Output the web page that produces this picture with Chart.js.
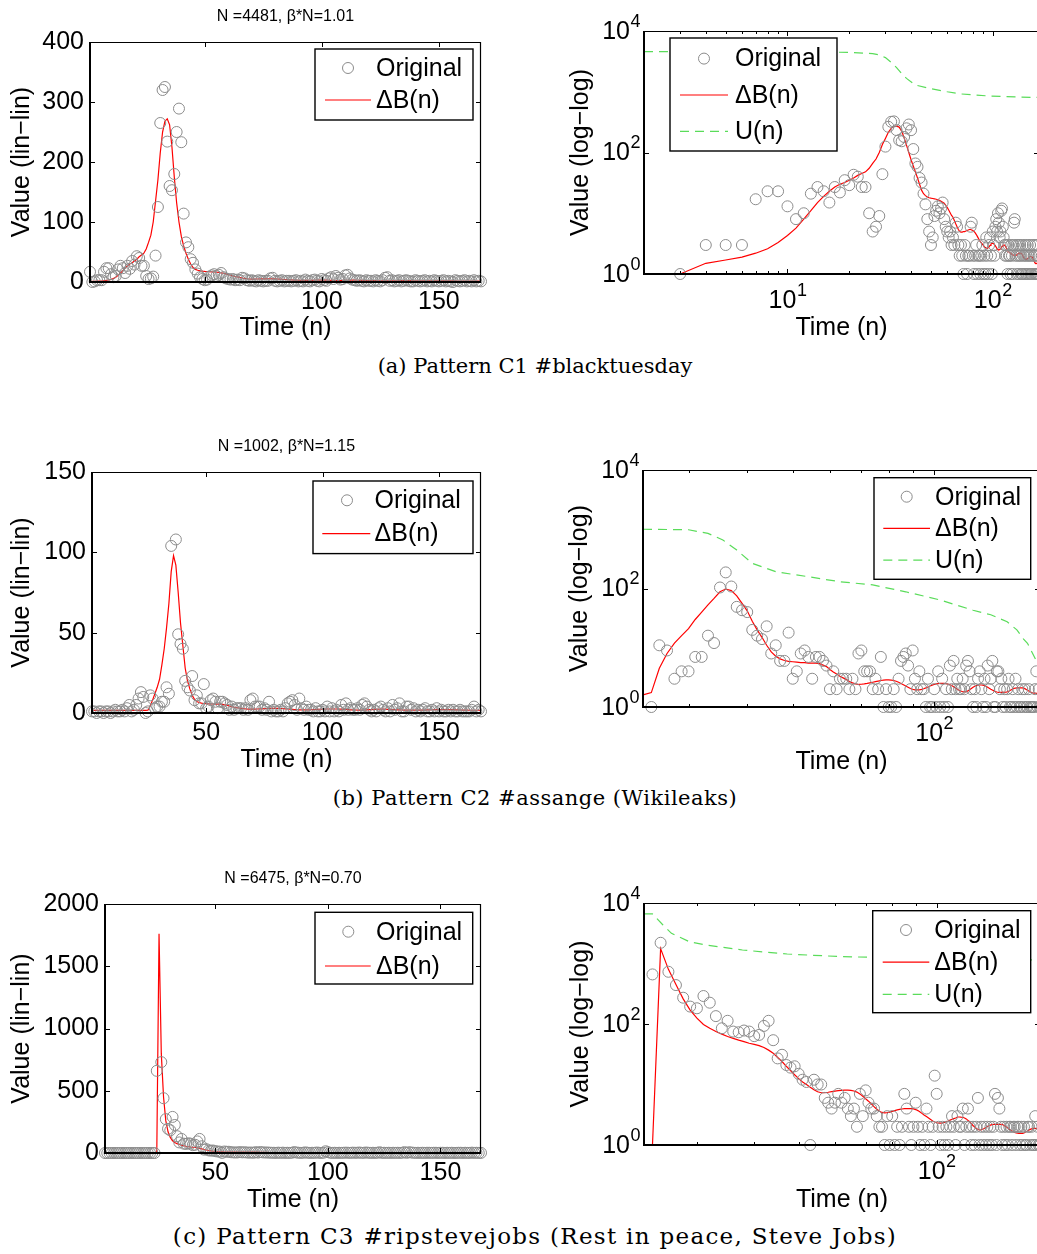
<!DOCTYPE html>
<html>
<head>
<meta charset="utf-8">
<script src="https://cdn.jsdelivr.net/npm/chart.js@4.4.1/dist/chart.umd.min.js"></script>
<style>
  html, body { margin: 0; padding: 0; background: #fff; }
  body { width: 1037px; height: 1254px; position: relative; overflow: hidden; }
  canvas { position: absolute; }
  .caption { position: absolute; left: 0; width: 1070px; text-align: center;
             font-family: "DejaVu Serif", serif; font-size: 21px; line-height: 24px; color: #000; }
</style>
</head>
<body>
<canvas id="aLin"></canvas>
<canvas id="aLog"></canvas>
<canvas id="bLin"></canvas>
<canvas id="bLog"></canvas>
<canvas id="cLin"></canvas>
<canvas id="cLog"></canvas>
<div class="caption" style="top:354px">(a) Pattern C1 #blacktuesday</div>
<div class="caption" style="top:786px; letter-spacing:0.5px">(b) Pattern C2 #assange (Wikileaks)</div>
<div class="caption" style="top:1224px; font-size:23px; letter-spacing:1.3px">(c) Pattern C3 #ripstevejobs (Rest in peace, Steve Jobs)</div>
<script>
// hourly time steps, one week
const hours = [];
for (let n = 1; n <= 168; n++) hours.push(n);

// ---- C1 #blacktuesday ----
const originalC1 = [
  17, 0, 1, 3, 3, 3, 17, 23, 23, 13,
  8, 10, 21, 27, 23, 15, 27, 22, 35, 29,
  43, 40, 27, 27, 10, 5, 6, 9, 44, 125,
  265, 320, 325, 234, 160, 153, 180, 250, 289, 233,
  114, 66, 58, 38, 32, 21, 14, 8, 5, 3,
  4, 9, 11, 13, 10, 12, 15, 8, 6, 5,
  4, 5, 3, 4, 3, 7, 6, 3, 2, 3,
  2, 1, 3, 2, 1, 2, 2, 6, 7, 2,
  1, 2, 3, 1, 2, 2, 1, 2, 3, 1,
  2, 1, 4, 2, 1, 3, 4, 2, 1, 5,
  3, 2, 6, 8, 5, 10, 7, 4, 5, 11,
  12, 6, 4, 3, 2, 3, 2, 1, 3, 2,
  2, 1, 3, 2, 1, 3, 7, 8, 2, 3,
  1, 2, 3, 1, 2, 3, 2, 1, 1, 3,
  2, 1, 2, 3, 1, 2, 1, 3, 2, 1,
  2, 3, 1, 2, 1, 0, 3, 2, 1, 2,
  3, 1, 2, 1, 3, 1, 2, 1
];
const deltaBC1 = [
  1, 1, 1, 1.5, 1.7, 1.9, 2.2, 2.6, 3.3, 4.3,
  5.7, 8, 11, 15, 19, 23, 27, 30, 32, 35,
  38, 42, 45, 48, 55, 66, 78, 100, 135, 170,
  215, 250, 268, 272, 262, 225, 175, 132, 100, 76,
  60, 48, 38, 30, 24, 21, 19.5, 18.5, 18, 17.7,
  17.5, 17.3, 17, 16.7, 16.3, 15.8, 15.2, 14.6, 13.5, 12.5,
  11.3, 10.2, 9.2, 8.6, 7.6, 6.7, 6, 5.4, 5, 4.9,
  4.9, 5, 5, 5.1, 5.2, 5.3, 5.4, 5.4, 5.3, 5.2,
  5, 4.8, 4.5, 4.2, 3.9, 3.6, 3.4, 3.25, 3.1, 2.95,
  2.8, 2.72, 2.67, 2.65, 2.7, 2.8, 2.95, 3.1, 3.2, 3.2,
  3.15, 3.05, 2.9, 2.75, 2.6, 2.52, 2.5, 2.52, 2.6, 2.7,
  2.85, 2.95, 3, 3, 2.9, 2.75, 2.6, 2.45, 2.35, 2.3,
  2.25, 2.2, 2.15, 2.1, 2.07, 2.05, 2.04, 2.04, 2.05, 2.05,
  2.08, 2.12, 2.16, 2.2, 2.2, 2.2, 2.2, 2.18, 2.1, 2,
  1.92, 1.85, 1.8, 1.77, 1.75, 1.75, 1.77, 1.8, 1.84, 1.88,
  1.91, 1.93, 1.93, 1.93, 1.92, 1.88, 1.8, 1.7, 1.62, 1.56,
  1.52, 1.5, 1.5, 1.5, 1.5, 1.5, 1.5, 1.5
];
const uTimesC1 = [2, 10, 20, 26, 28, 30, 32, 34, 36, 38, 42, 49, 60, 70, 96, 130, 168];
const uValuesC1 = [4570, 4550, 4450, 4250, 4030, 3650, 3050, 2500, 2000, 1660, 1290, 1140, 1000, 920, 850, 820, 805];

// ---- C2 #assange ----
const originalC2 = [
  1, 1, 0, 1, 1, 0, 1, 1, 0, 1,
  2, 1, 1, 2, 1, 3, 5, 1, 2, 5,
  9, 13, 10, 0, 1, 11, 9, 3, 4, 4,
  7, 7, 16, 12, 104, 187, 108, 49, 43, 40,
  20, 16, 14, 23, 8, 11, 6, 6, 18, 3,
  4, 8, 9, 7, 3, 7, 7, 6, 5, 2,
  4, 2, 3, 3, 3, 2, 3, 2, 8, 9,
  4, 4, 4, 2, 3, 2, 7, 1, 2, 1,
  1, 2, 1, 3, 6, 7, 8, 5, 2, 9,
  3, 2, 4, 2, 2, 1, 3, 1, 1, 2,
  1, 4, 1, 3, 1, 2, 1, 5, 2, 6,
  2, 3, 2, 2, 3, 2, 5, 6, 4, 2,
  1, 2, 1, 3, 4, 2, 1, 3, 1, 5,
  2, 3, 6, 1, 1, 4, 4, 2, 3, 1,
  2, 1, 2, 3, 1, 1, 2, 1, 3, 1,
  2, 1, 1, 2, 1, 2, 1, 1, 2, 1,
  1, 1, 1, 2, 4, 1, 2, 1
];
const deltaBC2 = [
  1.6, 1.6, 1.6, 1.6, 1.6, 1.6, 1.6, 1.6, 1.6, 1.6,
  1.6, 1.6, 1.6, 1.6, 1.6, 1.6, 1.6, 1.6, 1.6, 1.6,
  1.6, 1.6, 1.6, 1.6, 1.75, 4.5, 8, 12, 16, 21,
  30, 40, 53, 68, 88, 98, 92, 75, 56, 42,
  28, 20, 15, 11, 8.5, 7.2, 6.5, 6.1, 5.9, 5.8,
  5.7, 5.6, 5.6, 5.5, 5.5, 5.5, 5.4, 5.1, 4.8, 4.3,
  3.9, 3.6, 3.3, 3.1, 2.9, 2.7, 2.55, 2.45, 2.4, 2.42,
  2.45, 2.5, 2.56, 2.62, 2.68, 2.74, 2.8, 2.84, 2.86, 2.86,
  2.84, 2.8, 2.72, 2.62, 2.5, 2.38, 2.26, 2.15, 2.05, 1.99,
  1.95, 1.94, 1.95, 1.98, 2.03, 2.1, 2.18, 2.26, 2.34, 2.4,
  2.45, 2.48, 2.5, 2.5, 2.5, 2.48, 2.44, 2.38, 2.3, 2.2,
  2.1, 2, 1.92, 1.86, 1.81, 1.8, 1.82, 1.87, 1.95, 2.05,
  2.15, 2.24, 2.3, 2.34, 2.35, 2.35, 2.34, 2.3, 2.24, 2.16,
  2.08, 2, 1.93, 1.87, 1.82, 1.79, 1.77, 1.77, 1.77, 1.78,
  1.77, 1.78, 1.8, 1.84, 1.9, 1.96, 2.02, 2.06, 2.09, 2.1,
  2.1, 2.1, 2.1, 2.1, 2.08, 2.04, 1.98, 1.92, 1.86, 1.81,
  1.77, 1.74, 1.72, 1.71, 1.7, 1.7, 1.7, 1.7
];
const uTimesC2 = [24, 30, 33, 35.5, 38, 41, 46, 54, 63, 74, 87, 103, 121, 132, 143, 150, 155, 158, 166, 168];
const uValuesC2 = [1000, 980, 850, 660, 445, 266, 192, 158, 130, 115, 88, 64, 43, 36, 27.5, 20, 14, 11.9, 5.5, 4.5];

// ---- C3 #ripstevejobs ----
const originalC3 = [
  0, 0, 0, 0, 0, 0, 0, 0, 0, 0,
  0, 0, 0, 0, 0, 0, 0, 0, 0, 0,
  0, 0, 0, 660, 2200, 730, 440, 272, 194, 182,
  290, 225, 135, 85, 113, 75, 73, 78, 75, 63,
  66, 93, 113, 54, 27, 31, 21, 19, 20, 15,
  12, 11, 1, 12, 10, 10, 6, 5, 4, 5,
  7, 5, 6, 4, 3, 4, 2, 7, 3, 8,
  5, 4, 4, 3, 2, 2, 1, 3, 1, 3,
  1, 2, 1, 2, 7, 4, 2, 1, 2, 5,
  2, 1, 2, 1, 4, 2, 1, 2, 14, 7,
  2, 1, 2, 1, 2, 1, 2, 3, 2, 1,
  3, 2, 2, 4, 1, 2, 4, 2, 1, 2,
  1, 2, 6, 1, 2, 1, 2, 1, 2, 1,
  2, 1, 2, 7, 1, 6, 4, 2, 1, 2,
  1, 2, 1, 2, 2, 1, 2, 2, 1, 2,
  2, 1, 2, 1, 2, 1, 1, 2, 2, 1,
  2, 1, 1, 3, 1, 2, 1, 1
];
const deltaBC3 = [
  1, 1, 1, 1, 1, 1, 1, 1, 1, 1,
  1, 1, 1, 1, 1, 1, 1, 1, 1, 1,
  1, 1, 1, 1, 1760, 800, 450, 260, 170, 125,
  98, 85, 75, 68, 62, 58, 54, 51, 48, 46,
  44, 41, 37, 33, 28, 24, 20, 17, 14.5, 12.5,
  11, 10, 9, 8.2, 7.6, 7.3, 7.35, 7.45, 7.6, 7.75,
  7.9, 8, 8.05, 8.05, 8, 7.8, 7.5, 7, 6.4, 5.8,
  5.3, 4.8, 4.3, 3.9, 3.6, 3.45, 3.4, 3.42, 3.5, 3.6,
  3.7, 3.8, 3.88, 3.94, 3.98, 4, 4, 4, 3.95, 3.85,
  3.7, 3.5, 3.3, 3.1, 2.95, 2.8, 2.65, 2.5, 2.4, 2.33,
  2.3, 2.3, 2.32, 2.36, 2.42, 2.5, 2.58, 2.66, 2.73, 2.8,
  2.9, 2.9, 2.88, 2.87, 2.8, 2.7, 2.55, 2.4, 2.25, 2.1,
  1.98, 1.88, 1.8, 1.77, 1.78, 1.82, 1.88, 1.95, 2.02, 2.08,
  2.13, 2.17, 2.19, 2.2, 2.2, 2.2, 2.2, 2.2, 2.18, 2.12,
  2.05, 1.98, 1.9, 1.82, 1.75, 1.7, 1.65, 1.61, 1.58, 1.57,
  1.56, 1.56, 1.56, 1.56, 1.58, 1.62, 1.67, 1.72, 1.77, 1.81,
  1.85, 1.87, 1.88, 1.88, 1.87, 1.85, 1.8, 1.77
];
const uTimesC3 = [23, 24, 25.3, 26.4, 28.9, 31.7, 37.7, 47.2, 61.6, 70.8, 100, 135, 168];
const uValuesC3 = [6600, 6600, 4330, 3150, 2290, 2000, 1670, 1435, 1300, 1270, 1200, 1160, 1140];

const FONT = '"Liberation Sans", Arial, Helvetica, sans-serif';
const GREY = 'rgb(140,140,140)';
const RED = 'rgb(255,0,0)';
const GREEN = 'rgb(90,220,90)';
Chart.defaults.font.family = FONT;

// (x, y) pairs; on log axes drop zeros and times before the axis start
function pairs(times, values, xmin, log) {
  const pts = [];
  times.forEach((t, i) => {
    if (log && (t < xmin || values[i] <= 0)) return;
    pts.push({ x: t, y: values[i] });
  });
  return pts;
}

function powLabel(ctx, value, x, y, align) {
  const e = String(Math.round(Math.log10(value)));
  ctx.font = '25px ' + FONT;
  const w1 = ctx.measureText('10').width;
  ctx.font = '18px ' + FONT;
  const w2 = ctx.measureText(e).width;
  const start = align === 'center' ? x - (w1 + w2) / 2 : x - (w1 + w2);
  ctx.textAlign = 'left';
  ctx.textBaseline = 'middle';
  ctx.fillStyle = '#000';
  ctx.font = '25px ' + FONT;
  ctx.fillText('10', start, y);
  ctx.font = '18px ' + FONT;
  ctx.fillText(e, start + w1 + 0.5, y - 10);
}

// matlab style box, inward ticks, title and legend
function frame(spec) {
  return {
    id: 'frame',
    afterDatasetsDraw(chart) {
      const ctx = chart.ctx;
      const a = chart.chartArea;
      const xs = chart.scales.x;
      const ys = chart.scales.y;
      ctx.save();
      ctx.strokeStyle = '#000';
      ctx.lineWidth = 1.2;
      ctx.beginPath();
      ctx.moveTo(a.left, a.top + 0.5);
      ctx.lineTo(a.right - 0.5, a.top + 0.5);
      ctx.lineTo(a.right - 0.5, a.bottom);
      ctx.stroke();
      ctx.lineWidth = 2;
      ctx.beginPath();
      ctx.moveTo(a.left, a.top);
      ctx.lineTo(a.left, a.bottom);
      ctx.lineTo(a.right, a.bottom);
      ctx.stroke();

      ctx.lineWidth = 1;
      const mark = (x1, y1, x2, y2) => { ctx.beginPath(); ctx.moveTo(x1, y1); ctx.lineTo(x2, y2); ctx.stroke(); };
      const xTick = (v, len) => {
        const p = Math.round(xs.getPixelForValue(v)) + 0.5;
        mark(p, a.bottom, p, a.bottom - len);
        mark(p, a.top, p, a.top + len);
      };
      spec.xMajor.forEach(v => xTick(v, 5));
      (spec.xMinor || []).forEach(v => { if (v > xs.min && v < xs.max) xTick(v, 3); });
      spec.yMajor.forEach(v => {
        const p = Math.round(ys.getPixelForValue(v)) + 0.5;
        mark(a.left, p, a.left + 5, p);
        mark(a.right, p, a.right - 5, p);
      });

      if (spec.log) {
        spec.xMajor.forEach(v => powLabel(ctx, v, xs.getPixelForValue(v), a.bottom + 27, 'center'));
        spec.yMajor.forEach(v => powLabel(ctx, v, a.left - 4, ys.getPixelForValue(v) + 1, 'right'));
      }

      if (spec.title) {
        ctx.fillStyle = '#000';
        ctx.font = '16px ' + FONT;
        ctx.textAlign = 'center';
        ctx.textBaseline = 'middle';
        ctx.fillText(spec.title, (a.left + a.right) / 2, a.top - 25);
      }

      const L = spec.legend;
      const bx = a.left + L.left;
      const by = a.top + L.top;
      ctx.fillStyle = '#fff';
      ctx.fillRect(bx, by, L.width, L.height);
      ctx.strokeStyle = '#000';
      ctx.lineWidth = 1.4;
      ctx.strokeRect(bx, by, L.width, L.height);
      chart.data.datasets.forEach((ds, i) => {
        const y = by + L.first + i * L.gap;
        if (!ds.showLine) {
          ctx.strokeStyle = GREY;
          ctx.lineWidth = 1;
          ctx.beginPath();
          ctx.arc(bx + L.mark, y, 5.5, 0, Math.PI * 2);
          ctx.stroke();
        } else {
          ctx.strokeStyle = ds.borderColor;
          ctx.lineWidth = ds.borderWidth;
          ctx.setLineDash(ds.borderDash || []);
          mark(bx + L.lineFrom, y, bx + L.lineTo, y);
          ctx.setLineDash([]);
        }
        ctx.fillStyle = '#000';
        ctx.font = '25px ' + FONT;
        ctx.textAlign = 'left';
        ctx.textBaseline = 'middle';
        ctx.fillText(ds.label, bx + L.text, y + 1);
      });
      ctx.restore();
    }
  };
}

function drawPanel(id, box, area, opts) {
  const canvas = document.getElementById(id);
  canvas.width = box.w;
  canvas.height = box.h;
  canvas.style.left = box.left + 'px';
  canvas.style.top = box.top + 'px';
  canvas.style.width = box.w + 'px';
  canvas.style.height = box.h + 'px';
  const log = opts.log;
  const tickFont = { family: FONT, size: 25 };

  const datasets = [
    {
      label: 'Original',
      data: pairs(hours, opts.original, opts.xMin, log),
      showLine: false,
      pointStyle: 'circle',
      pointRadius: 5.5,
      pointBorderWidth: 1,
      pointBorderColor: GREY,
      pointBackgroundColor: 'rgba(0,0,0,0)',
      borderColor: GREY,
      backgroundColor: 'rgba(0,0,0,0)',
      clip: 8
    },
    {
      label: 'ΔB(n)',
      data: pairs(hours, opts.fit, opts.xMin, log),
      showLine: true,
      pointRadius: 0,
      borderColor: RED,
      borderWidth: 1.2,
      tension: 0,
      clip: 2
    }
  ];
  if (log) {
    datasets.push({
      label: 'U(n)',
      data: pairs(opts.uTimes, opts.uValues, opts.xMin, log),
      showLine: true,
      pointRadius: 0,
      borderColor: GREEN,
      borderWidth: 1.2,
      borderDash: [9, 6],
      tension: 0,
      clip: 2
    });
  }

  new Chart(canvas, {
    type: 'scatter',
    data: { datasets },
    options: {
      responsive: false,
      animation: false,
      events: [],
      layout: { padding: { left: 0, top: area.t - box.top, right: box.left + box.w - area.r, bottom: 0 } },
      plugins: { legend: { display: false }, tooltip: { enabled: false } },
      scales: {
        x: {
          type: log ? 'logarithmic' : 'linear',
          position: 'bottom',
          min: opts.xMin,
          max: 168,
          grid: { display: false, drawTicks: false },
          border: { display: false },
          ticks: { display: !log, font: tickFont, color: '#000', padding: 5, maxRotation: 0, autoSkip: false,
                   callback: v => String(v) },
          afterBuildTicks: log ? undefined : s => { s.ticks = opts.xMajor.map(v => ({ value: v })); },
          afterFit: s => { s.height = box.top + box.h - area.b; },
          title: { display: true, text: 'Time (n)', font: tickFont, color: '#000', padding: 0 }
        },
        y: {
          type: log ? 'logarithmic' : 'linear',
          position: 'left',
          min: opts.yMin,
          max: opts.yMax,
          grid: { display: false, drawTicks: false },
          border: { display: false },
          ticks: { display: !log, font: tickFont, color: '#000', padding: 6, autoSkip: false,
                   callback: v => String(v) },
          afterBuildTicks: log ? undefined : s => { s.ticks = opts.yMajor.map(v => ({ value: v })); },
          afterFit: s => { s.width = area.l - box.left; },
          title: { display: true, text: log ? 'Value (log−log)' : 'Value (lin−lin)', font: tickFont,
                   color: '#000', padding: opts.yTitlePad }
        }
      }
    },
    plugins: [frame(opts)]
  });
}

drawPanel('aLin', { left: 0, top: 0, w: 500, h: 343 }, { l: 90, t: 42, r: 481, b: 282 }, {
  log: false, xMin: 1, yMin: 0, yMax: 400,
  xMajor: [50, 100, 150], yMajor: [0, 100, 200, 300, 400],
  original: originalC1, fit: deltaBC1,
  title: 'N =4481, β*N=1.01', yTitlePad: 7.5,
  legend: { left: 225, top: 7, width: 158, height: 71, first: 19, gap: 32, mark: 33, lineFrom: 10, lineTo: 56, text: 61 }
});
drawPanel('aLog', { left: 540, top: 0, w: 510, h: 343 }, { l: 644, t: 31, r: 1039, b: 274 }, {
  log: true, xMin: 2, yMin: 1, yMax: 10000,
  xMajor: [10, 100], xMinor: [3, 4, 5, 6, 7, 8, 9, 20, 30, 40, 50, 60, 70, 80, 90], yMajor: [1, 100, 10000],
  original: originalC1, fit: deltaBC1, uTimes: uTimesC1, uValues: uValuesC1, yTitlePad: 26,
  legend: { left: 26, top: 7, width: 167, height: 113, first: 20.6, gap: 36.4, mark: 34, lineFrom: 10, lineTo: 58, text: 65 }
});
drawPanel('bLin', { left: 0, top: 430, w: 500, h: 345 }, { l: 92, t: 472, r: 481, b: 713 }, {
  log: false, xMin: 1, yMin: 0, yMax: 150,
  xMajor: [50, 100, 150], yMajor: [0, 50, 100, 150],
  original: originalC2, fit: deltaBC2,
  title: 'N =1002, β*N=1.15', yTitlePad: 7.5,
  legend: { left: 221, top: 9, width: 160, height: 72.6, first: 19.3, gap: 33.3, mark: 34, lineFrom: 9.3, lineTo: 57.3, text: 61.6 }
});
drawPanel('bLog', { left: 540, top: 430, w: 510, h: 347 }, { l: 643, t: 470, r: 1040, b: 707 }, {
  log: true, xMin: 24, yMin: 1, yMax: 10000,
  xMajor: [100], xMinor: [30, 40, 50, 60, 70, 80, 90], yMajor: [1, 100, 10000],
  original: originalC2, fit: deltaBC2, uTimes: uTimesC2, uValues: uValuesC2, yTitlePad: 25.5,
  legend: { left: 231, top: 7.7, width: 156.7, height: 101.6, first: 19, gap: 31.7, mark: 32.7, lineFrom: 9.3, lineTo: 56, text: 61 }
});
drawPanel('cLin', { left: 0, top: 860, w: 500, h: 355 }, { l: 105, t: 904, r: 481, b: 1153 }, {
  log: false, xMin: 1, yMin: 0, yMax: 2000,
  xMajor: [50, 100, 150], yMajor: [0, 500, 1000, 1500, 2000],
  original: originalC3, fit: deltaBC3,
  title: 'N =6475, β*N=0.70', yTitlePad: 7.5,
  legend: { left: 210, top: 8.3, width: 157.7, height: 71.7, first: 19.4, gap: 34.3, mark: 33.3, lineFrom: 10, lineTo: 55.7, text: 61 }
});
drawPanel('cLog', { left: 540, top: 860, w: 510, h: 355 }, { l: 644, t: 903, r: 1040, b: 1145 }, {
  log: true, xMin: 23, yMin: 1, yMax: 10000,
  xMajor: [100], xMinor: [30, 40, 50, 60, 70, 80, 90], yMajor: [1, 100, 10000],
  original: originalC3, fit: deltaBC3, uTimes: uTimesC3, uValues: uValuesC3, yTitlePad: 26,
  legend: { left: 228.7, top: 7.7, width: 158, height: 102, first: 19.3, gap: 32.2, mark: 33.3, lineFrom: 10, lineTo: 56.6, text: 61.6 }
});
</script>
</body>
</html>
